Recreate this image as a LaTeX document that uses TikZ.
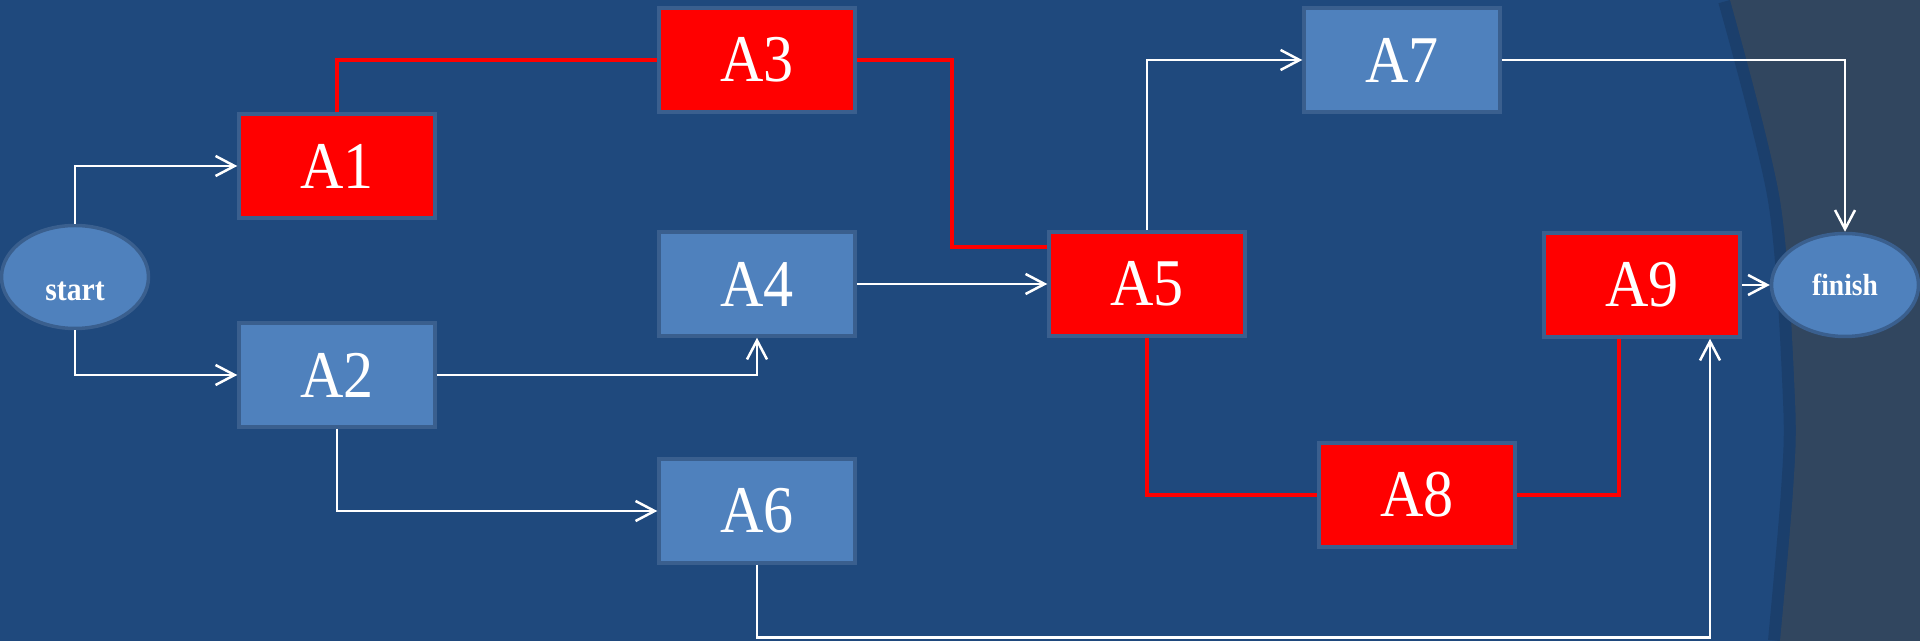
\documentclass[tikz,border=0pt]{standalone}
\usepackage{fontspec}
\setmainfont{Liberation Serif}[FakeStretch=0.9]
\usetikzlibrary{shapes.geometric,arrows.meta}
\definecolor{bg}{HTML}{1F497D}
\definecolor{side}{HTML}{31465F}
\definecolor{edgeblue}{HTML}{1B3F6C}
\definecolor{boxfill}{HTML}{4F81BD}
\definecolor{boxline}{HTML}{3A5F8E}
\begin{document}
\begin{tikzpicture}[
	act/.style={draw=boxline,line width=0.35mm,fill=boxfill,minimum width=1.96cm,minimum height=1.04cm,text=white,font=\fontsize{19}{19}\selectfont},
	crit/.style={act,fill=red},
	ends/.style={ellipse,draw=boxline,line width=0.35mm,fill=boxfill,minimum width=1.47cm,minimum height=1.03cm,inner sep=0pt,text=white,font=\fontsize{9.4}{9.4}\selectfont\bfseries},
	flow/.style={white,line width=0.25mm,-{Straight Barb[length=1.9mm,width=2mm]}},
	critline/.style={red,line width=0.4mm}]
	\useasboundingbox (0,0) rectangle (19.2,6.41);
	\clip (0,0) rectangle (19.2,6.41);
	% background
	\fill[bg] (0,0) rectangle (19.2,6.41);
	\draw[edgeblue,line width=2.4mm] plot[smooth] coordinates {(17.30,6.41) (17.80,4.41) (17.95,2.41) (17.93,1.5) (17.80,0)};
	\fill[side] plot[smooth] coordinates {(17.30,6.41) (17.80,4.41) (17.95,2.41) (17.93,1.5) (17.80,0)} -- (19.2,0) -- (19.2,6.41) -- cycle;
	% nodes
	\node[ends] (v0) at (0.75,3.64) {\raisebox{-1.4mm}[\height][\depth]{start}};
	\node[crit] (v1) at (3.37,4.75) {A1};
	\node[act] (v2) at (3.37,2.66) {A2};
	\node[crit] (v3) at (7.57,5.81) {A3};
	\node[act] (v4) at (7.57,3.57) {A4};
	\node[crit] (v5) at (11.47,3.57) {A5};
	\node[act] (v6) at (7.57,1.30) {A6};
	\node[act] (v7) at (14.02,5.81) {A7};
	\node[crit] (v8) at (14.17,1.46) {A8};
	\node[crit] (v9) at (16.42,3.56) {A9};
	\node[ends,font=\fontsize{8.7}{8.7}\selectfont\bfseries] (v10) at (18.45,3.56) {finish};
	\coordinate (k1) at (9.52,3.94);
	\coordinate (low) at (0,0.035);
	% critical path
	\draw[critline] (v1.north) |- (v3.west);
	\draw[critline] (v3.east) -| (k1) -- (v5.west |- k1);
	\draw[critline] (v5.south) |- (v8.west);
	\draw[critline] (v8.east) -| ([xshift=-2.3mm]v9.south);
	% other arrows
	\draw[flow] (v0.north) |- (v1.west);
	\draw[flow] (v0.south) |- (v2.west);
	\draw[flow] (v2.east) -| (v4.south);
	\draw[flow] (v2.south) |- (v6.west);
	\draw[flow] (v4.east) -- (v5.west);
	\draw[flow] (v5.north) |- (v7.west);
	\draw[flow] (v7.east) -| (v10.north);
	\draw[flow] (v9.east) -- (v10.west);
	\draw[flow] (v6.south) -- (v6.south |- low) -| ([xshift=6.8mm]v9.south);
\end{tikzpicture}
\end{document}
